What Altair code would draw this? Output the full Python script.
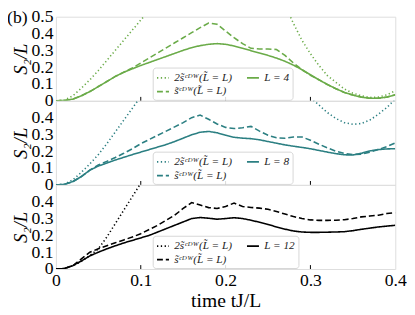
import altair as alt
import pandas as pd

FONT = "Liberation Serif"

# time grid t J / L
T = [0.00, 0.01, 0.02, 0.03, 0.04, 0.05, 0.06, 0.07, 0.08, 0.09,
     0.10, 0.11, 0.12, 0.13, 0.14, 0.15, 0.16, 0.17, 0.18, 0.19,
     0.20, 0.21, 0.22, 0.23, 0.24, 0.25, 0.26, 0.27, 0.28, 0.29,
     0.30, 0.31, 0.32, 0.33, 0.34, 0.35, 0.36, 0.37, 0.38, 0.39, 0.40]

# L = 4
SOLID_4 = [0, 0.002, 0.01, 0.03, 0.055, 0.085, 0.115, 0.145, 0.17, 0.19,
           0.21, 0.228, 0.246, 0.264, 0.282, 0.3, 0.316, 0.328, 0.336, 0.34,
           0.336, 0.326, 0.312, 0.298, 0.284, 0.27, 0.254, 0.235, 0.212, 0.185,
           0.155, 0.125, 0.097, 0.072, 0.05, 0.034, 0.022, 0.015, 0.015, 0.022, 0.036]
DASHED_4 = [0, 0.002, 0.01, 0.03, 0.055, 0.085, 0.115, 0.145, 0.17, 0.195,
            0.225, 0.255, 0.285, 0.315, 0.345, 0.375, 0.405, 0.435, 0.462, 0.455,
            0.415, 0.375, 0.34, 0.312, 0.308, 0.308, 0.305, 0.27, 0.225, 0.185,
            0.152, 0.125, 0.097, 0.072, 0.05, 0.034, 0.022, 0.015, 0.015, 0.022, 0.036]
DOTTED_4 = [0, 0.004, 0.03, 0.075, 0.125, 0.18, 0.24, 0.3, 0.36, 0.42,
            0.48, 0.54, 0.6, 0.66, 0.72, 0.77, 0.82, 0.86, 0.88, 0.89,
            0.88, 0.86, 0.83, 0.8, 0.76, 0.71, 0.65, 0.57, 0.46, 0.36,
            0.28, 0.21, 0.15, 0.11, 0.07, 0.045, 0.03, 0.02, 0.022, 0.035, 0.06]

# L = 8
SOLID_8 = [0, 0.003, 0.02, 0.05, 0.088, 0.112, 0.13, 0.148, 0.164, 0.18,
           0.195, 0.21, 0.225, 0.24, 0.258, 0.278, 0.298, 0.313, 0.318, 0.31,
           0.295, 0.283, 0.278, 0.275, 0.268, 0.258, 0.248, 0.238, 0.23, 0.223,
           0.215, 0.205, 0.195, 0.186, 0.179, 0.178, 0.188, 0.202, 0.21, 0.214, 0.215]
DASHED_8 = [0, 0.003, 0.02, 0.05, 0.088, 0.118, 0.14, 0.163, 0.188, 0.215,
            0.245, 0.27, 0.295, 0.32, 0.345, 0.37, 0.4, 0.415, 0.39, 0.362,
            0.342, 0.335, 0.34, 0.348, 0.32, 0.295, 0.28, 0.277, 0.285, 0.285,
            0.265, 0.242, 0.22, 0.2, 0.187, 0.18, 0.183, 0.195, 0.21, 0.228, 0.25]
DOTTED_8 = [0, 0.004, 0.03, 0.075, 0.125, 0.18, 0.245, 0.315, 0.385, 0.455,
            0.525, 0.6, 0.67, 0.74, 0.8, 0.85, 0.89, 0.91, 0.92, 0.91,
            0.89, 0.86, 0.82, 0.78, 0.74, 0.7, 0.66, 0.63, 0.59, 0.555,
            0.52, 0.475, 0.43, 0.395, 0.37, 0.36, 0.365, 0.385, 0.42, 0.46, 0.51]

# L = 12
SOLID_12 = [0, 0.003, 0.02, 0.048, 0.078, 0.1, 0.12, 0.138, 0.155, 0.17,
            0.185, 0.2, 0.22, 0.24, 0.26, 0.28, 0.3, 0.306, 0.302, 0.296,
            0.3, 0.305, 0.3, 0.29, 0.278, 0.265, 0.25, 0.237, 0.226, 0.22,
            0.218, 0.218, 0.219, 0.22, 0.222, 0.228, 0.236, 0.243, 0.25, 0.255, 0.26]
DASHED_12 = [0, 0.003, 0.02, 0.06, 0.1, 0.12, 0.138, 0.156, 0.173, 0.19,
             0.21, 0.235, 0.26, 0.29, 0.32, 0.36, 0.395, 0.38, 0.365, 0.36,
             0.372, 0.392, 0.372, 0.366, 0.362, 0.355, 0.342, 0.327, 0.312, 0.3,
             0.292, 0.289, 0.289, 0.29, 0.293, 0.3, 0.31, 0.315, 0.32, 0.33, 0.335]
DOTTED_12 = [0, 0.003, 0.02, 0.045, 0.08, 0.12, 0.19, 0.27, 0.35, 0.43,
             0.51, 0.59, 0.67, 0.75, 0.83, 0.9, 0.97, 1.03, 1.08, 1.12,
             1.15, 1.17, 1.18, 1.19, 1.2, 1.2, 1.2, 1.2, 1.2, 1.2,
             1.2, 1.2, 1.2, 1.2, 1.2, 1.2, 1.2, 1.2, 1.2, 1.2, 1.2]

X_TICKS = [0, 0.1, 0.2, 0.3, 0.4]
INNER_X_TICKS = [0.1, 0.2, 0.3]
Y_TICKS_TOP = [0, 0.1, 0.2, 0.3, 0.4, 0.5]
Y_TICKS = [0, 0.1, 0.2, 0.3, 0.4]

COLORS = {"4": "#6aab48", "8": "#2b7f82", "12": "#000000"}

W, H = 347, 86


def panel(solid, dashed, dotted, L, y_values, bottom=False, tag=None):
    lab_dot = "2s\u0303\u1d9c\u1d30\u1d42(L\u0303 = L)"
    lab_dash = "s\u0303\u1d9c\u1d30\u1d42(L\u0303 = L)"
    lab_solid = f"L = {L}"
    rows = []
    for lab, vals in [(lab_dot, dotted), (lab_dash, dashed), (lab_solid, solid)]:
        for t, v in zip(T, vals):
            rows.append({"t": t, "v": v, "s": lab})
    df = pd.DataFrame(rows)
    domain = [lab_dot, lab_dash, lab_solid]
    col = COLORS[L]

    legend = alt.Legend(
        title=None, orient="none", legendX=99, legendY=52, columns=2,
        symbolType="stroke", symbolSize=150, symbolStrokeWidth=1.8,
        labelFont=FONT, labelFontSize=11.5, labelFontStyle="italic", labelColor="#222",
        padding=3, rowPadding=1, columnPadding=10, labelOffset=4,
        strokeColor="#d6d6d6", fillColor="rgba(255,255,255,0.85)", cornerRadius=3,
    )

    if bottom:
        x_axis = alt.Axis(values=X_TICKS, labelExpr="format(datum.value, '.1~f')",
                          title="time tJ/L")
    else:
        x_axis = None

    y_axis = alt.Axis(values=y_values, labelExpr="format(datum.value, '.1~f')",
                      title="S\u2082/L")

    xscale = alt.Scale(domain=[0, 0.4], nice=False, zero=False)

    lines = alt.Chart(df).mark_line(clip=True, strokeWidth=1.6).encode(
        x=alt.X("t:Q", scale=xscale, axis=x_axis),
        y=alt.Y("v:Q", scale=alt.Scale(domain=[0, 0.5], nice=False), axis=y_axis),
        color=alt.Color("s:N", scale=alt.Scale(domain=domain, range=[col, col, col]), legend=legend),
        strokeDash=alt.StrokeDash("s:N", scale=alt.Scale(domain=domain, range=[[1.3, 2.6], [6, 3], [1, 0]]),
                                  legend=legend),
    )

    ticks = alt.Chart(pd.DataFrame({"t": INNER_X_TICKS})).mark_rule(color="black", strokeWidth=1).encode(
        x=alt.X("t:Q", scale=xscale, axis=x_axis), y=alt.value(H), y2=alt.value(H - 4)
    )

    layers = [lines, ticks]
    if tag:
        layers.append(
            alt.Chart(pd.DataFrame({"lbl": [tag]})).mark_text(
                align="left", baseline="alphabetic", fontSize=18, font=FONT
            ).encode(text="lbl:N", x=alt.value(-50), y=alt.value(6))
        )
    return alt.layer(*layers).properties(width=W, height=H)


top = panel(SOLID_4, DASHED_4, DOTTED_4, "4", Y_TICKS_TOP, tag="(b)")
mid = panel(SOLID_8, DASHED_8, DOTTED_8, "8", Y_TICKS)
bot = panel(SOLID_12, DASHED_12, DOTTED_12, "12", Y_TICKS, bottom=True)

chart = alt.vconcat(top, mid, bot, spacing=0, bounds="flush").resolve_scale(
    color="independent", strokeDash="independent", y="independent", x="independent"
).resolve_legend(color="independent", strokeDash="independent").properties(
    padding={"left": -2, "top": -5, "right": 0, "bottom": 40}
).configure_view(stroke="black", strokeWidth=1.5).configure(font=FONT).configure_axis(
    labelFont=FONT, labelFontSize=18, labelColor="black", labelFlush=False, labelOverlap=False,
    ticks=False, domain=False, grid=False,
    titleFont=FONT, titleFontWeight="normal", titleColor="black",
).configure_axisX(
    labelPadding=3, titleFontSize=20, titlePadding=1,
).configure_axisY(
    labelPadding=3, titleFontSize=19, titleFontStyle="italic", titlePadding=1,
)

chart.save("out.html", embed_options={"renderer": "svg", "actions": False})
